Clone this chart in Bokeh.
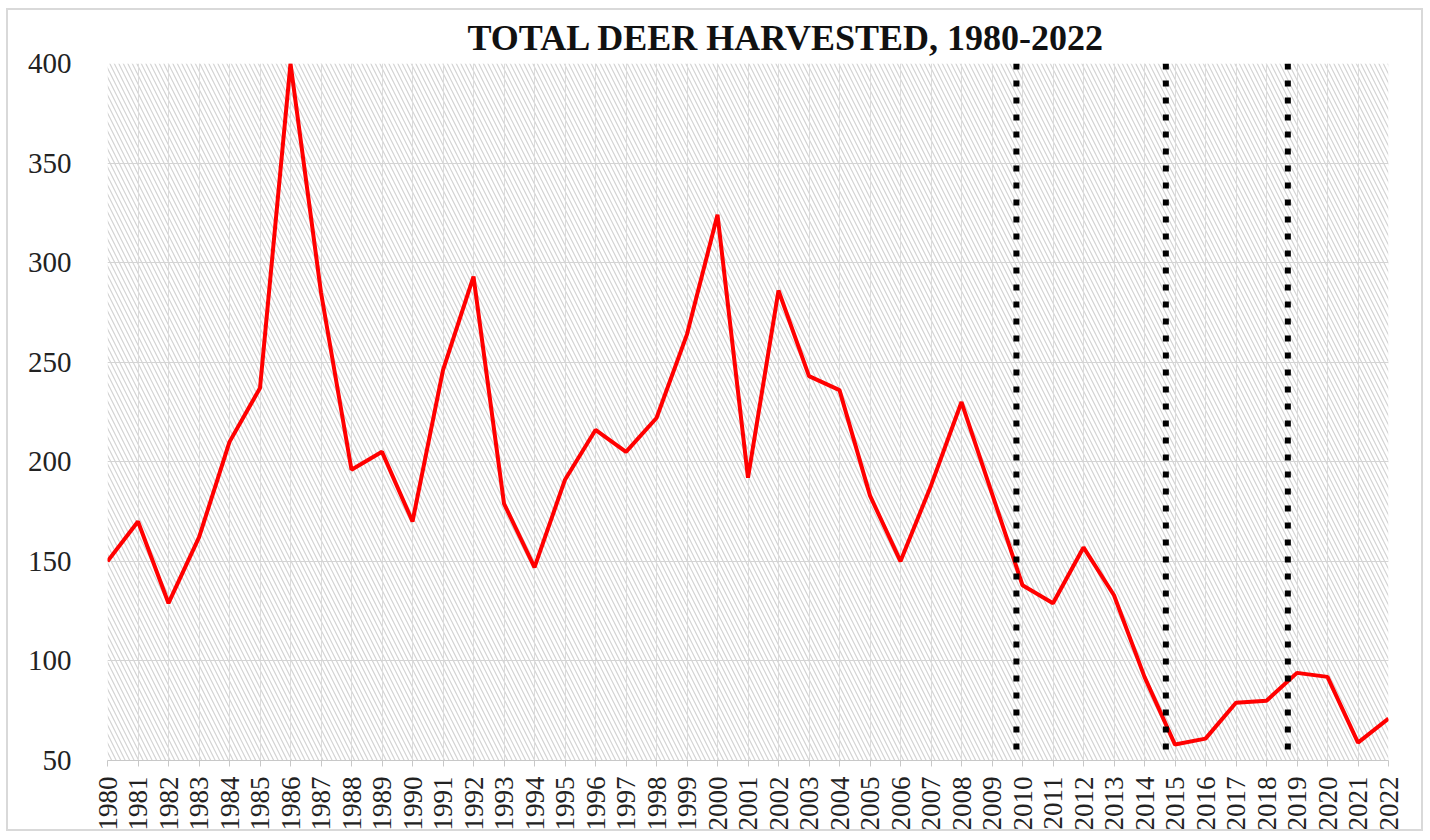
import math
from bokeh.plotting import figure
from bokeh.models import FixedTicker, Span, BoxAnnotation, Range1d, ColumnDataSource
from bokeh.embed import file_html
from bokeh.resources import INLINE

# ---- data ----
years = list(range(1980, 2023))
deer = [150, 170, 129, 162, 210, 237, 400, 285, 196, 205,
        170, 246, 293, 179, 147, 191, 216, 205, 222, 264,
        324, 192, 286, 243, 236, 183, 150, 188, 230, 184,
        138, 129, 157, 133, 92, 58, 61, 79, 80, 94,
        92, 59, 71]
y_ticks = [50, 100, 150, 200, 250, 300, 350, 400]
season_breaks = [2009.8, 2014.7, 2018.7]
title_text = "TOTAL DEER HARVESTED, 1980-2022"

SERIF = "Liberation Serif"

p = figure(width=1417, height=823, output_backend="svg", toolbar_location=None,
           x_range=Range1d(1980, 2022), y_range=Range1d(50, 400),
           min_border_left=99, min_border_right=37, min_border_top=53, min_border_bottom=64)
p.styles = {"border": "2px solid #d9d9d9", "margin-left": "6px", "margin-top": "8px"}
p.outline_line_color = None
p.background_fill_color = "white"

# title
p.title.text = title_text
p.title.text_font = SERIF
p.title.text_font_size = "36px"
p.title.text_font_style = "bold"
p.title.text_color = "#111111"
p.title.align = "left"
p.title.offset = 360
p.title.standoff = 11

# hatched plot area background
bg = BoxAnnotation(fill_color="white", line_color=None, hatch_pattern="\\",
                   hatch_color="#d3d3d3", hatch_scale=9, hatch_weight=1.2, level="image")
p.add_layout(bg)

# grid
p.xgrid.grid_line_color = "#dcdcdc"
p.xgrid.grid_line_width = 1
p.ygrid.grid_line_color = "#d4d4d4"
p.ygrid.grid_line_width = 1

# axes
p.xaxis.ticker = FixedTicker(ticks=years)
p.yaxis.ticker = FixedTicker(ticks=y_ticks)
p.xaxis.major_label_orientation = math.pi / 2
p.xaxis.major_label_text_font = SERIF
p.xaxis.major_label_text_font_size = "27px"
p.xaxis.major_label_text_color = "#222222"
p.xaxis.axis_line_color = "#c8c8c8"
p.xaxis.major_tick_line_color = "#c8c8c8"
p.xaxis.major_tick_out = 6
p.xaxis.major_tick_in = 0
p.xaxis.minor_tick_line_color = None
p.xaxis.major_label_standoff = 10

p.yaxis.major_label_text_font = SERIF
p.yaxis.major_label_text_font_size = "29px"
p.yaxis.major_label_text_color = "#222222"
p.yaxis.axis_line_color = None
p.yaxis.major_tick_line_color = None
p.yaxis.minor_tick_line_color = None
p.yaxis.major_label_standoff = 30

# data line
src = ColumnDataSource(dict(year=years, deer=deer))
p.line("year", "deer", source=src, line_color="#ff0000", line_width=4)

# dotted vertical markers
for xb in season_breaks:
    p.add_layout(Span(location=xb, dimension="height", line_color="black",
                      line_width=6, line_dash="6 11", level="overlay"))

open("out.html", "w").write(file_html(p, INLINE))
